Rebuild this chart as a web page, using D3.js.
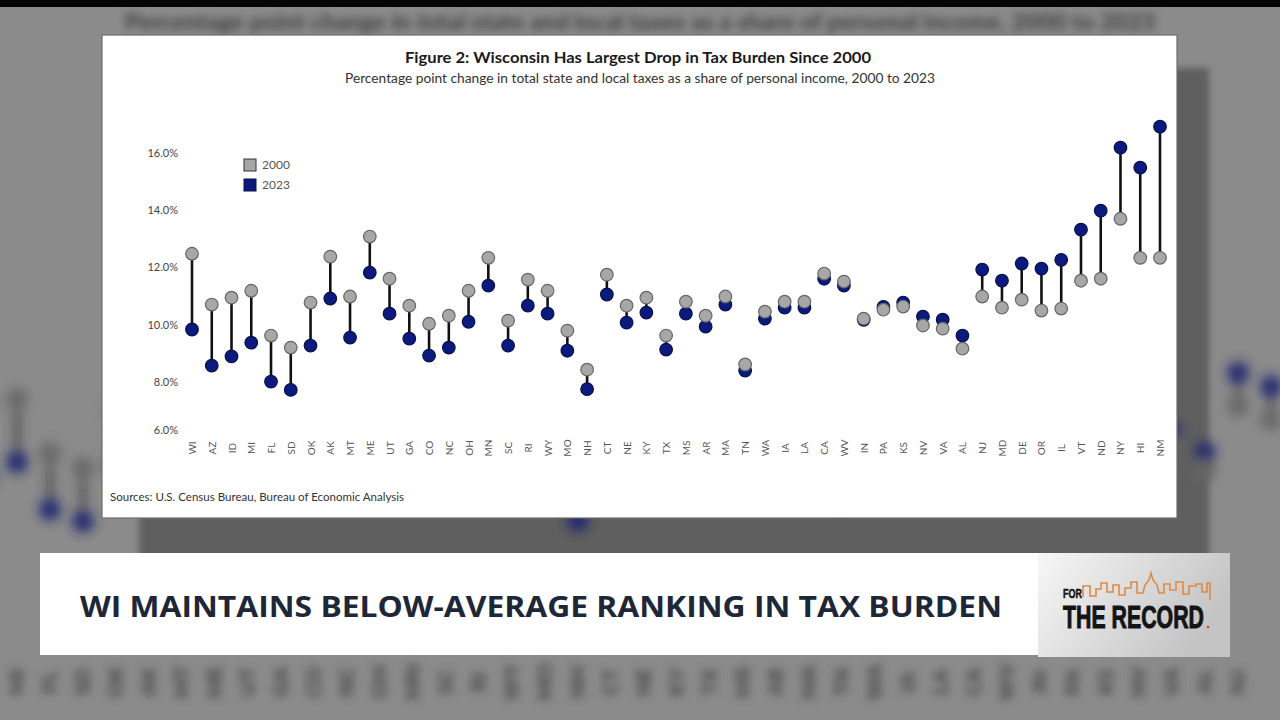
<!DOCTYPE html>
<html>
<head>
<meta charset="utf-8">
<script src="https://cdn.jsdelivr.net/npm/d3@7"></script>
<style>
  html, body { margin: 0; padding: 0; background: #8b8b8b; }
  svg { display: block; }
</style>
</head>
<body>
<div id="chart"></div>
<script>
// state order as shown on the x axis
const states = ['WI','AZ','ID','MI','FL','SD','OK','AK','MT','ME',
                'UT','GA','CO','NC','OH','MN','SC','RI','WY','MO',
                'NH','CT','NE','KY','TX','MS','AR','MA','TN','WA',
                'IA','LA','CA','WV','IN','PA','KS','NV','VA','AL',
                'NJ','MD','DE','OR','IL','VT','ND','NY','HI','NM'];

// total state & local taxes as % of personal income
const v2000 = [12.47,10.70,10.94,11.18,9.62,9.20,10.77,12.37,10.98,13.07,
               11.60,10.66,10.03,10.31,11.18,12.33,10.14,11.57,11.18,9.79,
               8.43,11.74,10.66,10.94,9.62,10.80,10.31,10.98,8.61,10.45,
               10.80,10.80,11.78,11.50,10.21,10.52,10.63,9.97,9.86,9.16,
               10.98,10.59,10.87,10.49,10.56,11.53,11.60,13.69,12.33,12.33];
const v2023 = [9.83,8.57,8.89,9.37,8.01,7.67,9.27,10.91,9.55,11.81,
               10.38,9.51,8.92,9.20,10.10,11.36,9.27,10.66,10.38,9.09,
               7.70,11.05,10.07,10.42,9.13,10.38,9.93,10.70,8.40,10.21,
               10.59,10.59,11.60,11.36,10.17,10.62,10.77,10.28,10.17,9.62,
               11.92,11.53,12.13,11.95,12.26,13.31,13.97,16.17,15.47,16.90];

const yTicks = [6, 8, 10, 12, 14, 16];
const legendItems = [{ label: '2000', key: 'a' }, { label: '2023', key: 'b' }];

const rows = states.map((s, i) => ({ state: s, a: v2000[i], b: v2023[i] }));

const colors = { a: '#a7a7a7', aStroke: '#666', b: '#0c1a7e', bStroke: '#06104a' };

const svg = d3.select('#chart').append('svg')
    .attr('width', 1280)
    .attr('height', 720);

const defs = svg.append('defs');
defs.append('filter').attr('id', 'blur').attr('x', '-20%').attr('y', '-20%')
    .attr('width', '140%').attr('height', '140%')
  .append('feGaussianBlur').attr('stdDeviation', 6);
defs.append('filter').attr('id', 'blurSoft').attr('x', '-5%').attr('y', '-50%')
    .attr('width', '110%').attr('height', '200%')
  .append('feGaussianBlur').attr('stdDeviation', 4);
defs.append('filter').attr('id', 'blurEdge')
  .append('feGaussianBlur').attr('stdDeviation', 3);

const logoGrad = defs.append('linearGradient').attr('id', 'logoGrad')
    .attr('x1', 0).attr('y1', 0).attr('x2', 1).attr('y2', 0.4);
logoGrad.append('stop').attr('offset', '0%').attr('stop-color', '#f7f7f7');
logoGrad.append('stop').attr('offset', '100%').attr('stop-color', '#c4c4c4');

// ---------- blurred TV background ----------
svg.append('rect').attr('width', 1280).attr('height', 720).attr('fill', '#8b8b8b');

const bg = svg.append('g').attr('class', 'bg');
bg.append('rect')
    .attr('x', 139).attr('y', 68).attr('width', 1070).attr('height', 500)
    .attr('fill', '#5f5f5f')
    .attr('filter', 'url(#blurEdge)');

bg.append('text')
    .attr('x', 125).attr('y', 30)
    .attr('textLength', 1030).attr('lengthAdjust', 'spacingAndGlyphs')
    .style('font-family', 'Lato, sans-serif').style('font-size', '22px').style('font-weight', 900)
    .attr('fill', '#444')
    .attr('filter', 'url(#blurSoft)')
    .text('Percentage point change in total state and local taxes as a share of personal income, 2000 to 2023');

// zoomed-in copy of the same chart behind the card
const bgX = d3.scalePoint().domain(states).range([-82, -82 + 49 * 33]);
const bgY = d3.scaleLinear().domain([6, 16]).range([580, 230]);
const bgRows = rows.filter(d => bgX(d.state) > -20 && bgX(d.state) < 1300);
const bgG = bg.append('g').attr('filter', 'url(#blur)').attr('opacity', 0.9);
bgG.selectAll('.bg-line').data(bgRows).enter().append('line')
    .attr('x1', d => bgX(d.state)).attr('x2', d => bgX(d.state))
    .attr('y1', d => bgY(d.a)).attr('y2', d => bgY(d.b))
    .attr('stroke', '#333').attr('stroke-width', 5);
bgG.selectAll('.bg-b').data(bgRows).enter().append('circle')
    .attr('cx', d => bgX(d.state)).attr('cy', d => bgY(d.b)).attr('r', 11)
    .attr('fill', '#1c2470');
bgG.selectAll('.bg-a').data(bgRows).enter().append('circle')
    .attr('cx', d => bgX(d.state)).attr('cy', d => bgY(d.a)).attr('r', 11)
    .attr('fill', '#666');

const bgLab = bg.append('g').attr('filter', 'url(#blurSoft)');
bgLab.selectAll('.bg-lab').data(bgRows.filter(d => bgX(d.state) > 10 && bgX(d.state) < 1270)).enter().append('text')
    .attr('transform', d => `translate(${bgX(d.state) + 7}, 682) rotate(-90)`)
    .attr('text-anchor', 'middle')
    .style('font-family', 'Lato, sans-serif').style('font-size', '21px').style('font-weight', 900)
    .attr('fill', '#4a4a4a')
    .text(d => d.state);

// black strip at the very top
svg.append('rect').attr('x', 0).attr('y', 0).attr('width', 1280).attr('height', 7).attr('fill', '#050505');

// ---------- chart card ----------
const card = { x: 102, y: 35, w: 1075, h: 483 };
svg.append('rect')
    .attr('x', card.x).attr('y', card.y).attr('width', card.w).attr('height', card.h)
    .attr('fill', '#fff').attr('stroke', '#6d6d6d').attr('stroke-width', 1.2);

svg.append('text')
    .attr('x', 638).attr('y', 63)
    .attr('text-anchor', 'middle')
    .attr('textLength', 466).attr('lengthAdjust', 'spacingAndGlyphs')
    .style('font-family', 'Lato, sans-serif').style('font-size', '15px').style('font-weight', 700)
    .attr('fill', '#1a1a1a')
    .text('Figure 2: Wisconsin Has Largest Drop in Tax Burden Since 2000');

svg.append('text')
    .attr('x', 640).attr('y', 83)
    .attr('text-anchor', 'middle')
    .attr('textLength', 590).attr('lengthAdjust', 'spacingAndGlyphs')
    .style('font-family', 'Lato, sans-serif').style('font-size', '12.5px')
    .attr('fill', '#333')
    .text('Percentage point change in total state and local taxes as a share of personal income, 2000 to 2023');

svg.append('text')
    .attr('x', 110).attr('y', 501)
    .attr('textLength', 294).attr('lengthAdjust', 'spacingAndGlyphs')
    .style('font-family', 'Lato, sans-serif').style('font-size', '10.5px')
    .attr('fill', '#333')
    .text('Sources: U.S. Census Bureau, Bureau of Economic Analysis');

// scales
const x = d3.scalePoint().domain(states).range([192, 1160]);
const y = d3.scaleLinear().domain([6, 8, 16]).range([430, 382, 152.5]);

// y axis: labels only
const yAxis = svg.append('g')
    .attr('transform', 'translate(178,0)')
    .call(d3.axisLeft(y).tickValues(yTicks).tickSize(0).tickPadding(0)
        .tickFormat(d => d3.format('.1f')(d) + '%'));
yAxis.select('.domain').remove();
yAxis.selectAll('text')
    .style('font-family', 'Lato, sans-serif').style('font-size', '11px')
    .attr('fill', '#444');

// x axis: rotated state codes
const xAxis = svg.append('g')
    .attr('transform', 'translate(0,448)')
    .call(d3.axisBottom(x).tickSize(0).tickPadding(0));
xAxis.select('.domain').remove();
xAxis.selectAll('text')
    .attr('transform', 'rotate(-90)')
    .attr('x', 0).attr('y', 0).attr('dy', '0.35em')
    .attr('text-anchor', 'middle')
    .style('font-family', 'Lato, sans-serif').style('font-size', '10px')
    .attr('fill', '#555');

// dumbbells
const plot = svg.append('g');
plot.selectAll('.stem').data(rows).enter().append('line')
    .attr('class', 'stem')
    .attr('x1', d => x(d.state)).attr('x2', d => x(d.state))
    .attr('y1', d => y(d.a)).attr('y2', d => y(d.b))
    .attr('stroke', '#111').attr('stroke-width', 2.6);

plot.selectAll('.dot-b').data(rows).enter().append('circle')
    .attr('class', 'dot-b')
    .attr('cx', d => x(d.state)).attr('cy', d => y(d.b)).attr('r', 6.3)
    .attr('fill', colors.b).attr('stroke', colors.bStroke).attr('stroke-width', 1.2);

plot.selectAll('.dot-a').data(rows).enter().append('circle')
    .attr('class', 'dot-a')
    .attr('cx', d => x(d.state)).attr('cy', d => y(d.a)).attr('r', 6.3)
    .attr('fill', colors.a).attr('stroke', colors.aStroke).attr('stroke-width', 1.2);

// legend
const legend = svg.append('g').attr('transform', 'translate(244,159)');
const li = legend.selectAll('.li').data(legendItems).enter().append('g')
    .attr('transform', (d, i) => `translate(0, ${i * 20})`);
li.append('rect')
    .attr('width', 12).attr('height', 12)
    .attr('fill', d => colors[d.key])
    .attr('stroke', d => d.key === 'a' ? '#333' : colors.bStroke).attr('stroke-width', 1);
li.append('text')
    .attr('x', 18).attr('y', 10)
    .style('font-family', 'Lato, sans-serif').style('font-size', '12px')
    .attr('fill', '#555')
    .text(d => d.label);

// ---------- lower third banner ----------
svg.append('rect')
    .attr('x', 40).attr('y', 553).attr('width', 998).attr('height', 102)
    .attr('fill', '#fff');
svg.append('text')
    .attr('x', 80).attr('y', 617)
    .attr('textLength', 922).attr('lengthAdjust', 'spacingAndGlyphs')
    .style('font-family', '"Open Sans", sans-serif').style('font-size', '29px').style('font-weight', 700)
    .attr('fill', '#1e2738')
    .text('WI MAINTAINS BELOW-AVERAGE RANKING IN TAX BURDEN');

// logo box
svg.append('rect')
    .attr('x', 1038).attr('y', 553).attr('width', 192).attr('height', 104)
    .attr('fill', 'url(#logoGrad)');
svg.append('path')
    .attr('d', 'M1083,597 L1083,586 L1090,586 L1090,596 L1096,596 L1096,589 L1101,589 L1101,583 L1107,583 L1107,592 L1113,592 L1113,585 L1119,585 L1119,595 L1125,595 L1125,588 L1131,588 L1131,582 L1137,582 L1137,593 L1143,593 L1145,585 L1149,580 L1151,573 L1153,580 L1157,585 L1159,593 L1164,593 L1164,584 L1170,584 L1170,590 L1176,590 L1176,582 L1183,582 L1183,594 L1189,594 L1189,586 L1196,586 L1196,584 L1202,584 L1202,592 L1207,592 L1207,583 L1210,583 L1210,600')
    .attr('fill', 'none').attr('stroke', '#e08a45').attr('stroke-width', 1.6);
svg.append('text')
    .attr('x', 1063).attr('y', 598)
    .attr('textLength', 19).attr('lengthAdjust', 'spacingAndGlyphs')
    .style('font-family', '"Liberation Sans Narrow", "Liberation Sans", sans-serif')
    .style('font-size', '13px').style('font-weight', 700)
    .attr('fill', '#141414').attr('stroke', '#141414').attr('stroke-width', 0.5)
    .text('FOR');
svg.append('text')
    .attr('x', 1063).attr('y', 628)
    .attr('textLength', 141).attr('lengthAdjust', 'spacingAndGlyphs')
    .style('font-family', '"Liberation Sans Narrow", "Liberation Sans", sans-serif')
    .style('font-size', '32px').style('font-weight', 700)
    .attr('fill', '#141414').attr('stroke', '#141414').attr('stroke-width', 1)
    .text('THE RECORD');
svg.append('circle').attr('cx', 1208).attr('cy', 627).attr('r', 1.3).attr('fill', '#d24a2a');
</script>
</body>
</html>
